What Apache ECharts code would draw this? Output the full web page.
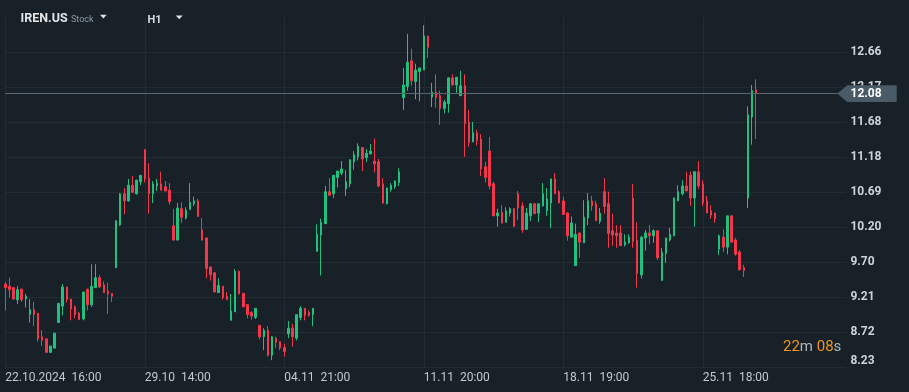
<!DOCTYPE html>
<html>
<head>
<meta charset="utf-8">
<script src="https://cdn.jsdelivr.net/npm/echarts@6/dist/echarts.min.js"></script>
<style>
html,body{margin:0;padding:0;background:#182028;}
#c{width:909px;height:392px;}
</style>
</head>
<body>
<div id="c"></div>
<script>
// ---- data (IREN.US, H1) ----
const opens = [
9.40,9.37,9.35,9.18,9.33,9.19,8.97,9.04,8.99,8.66,
8.63,8.44,8.50,8.86,9.09,9.36,9.19,9.08,8.99,8.91,
9.33,9.11,9.35,9.49,9.39,9.30,9.27,9.63,10.23,10.67,
10.57,10.79,10.67,10.84,11.29,10.89,10.67,10.78,10.81,10.77,
10.72,10.22,10.02,10.46,10.33,10.45,10.53,10.57,10.16,10.05,
9.64,9.56,9.28,9.37,9.23,8.89,9.01,9.58,9.27,9.11,
9.00,8.93,8.82,8.66,8.75,8.40,8.64,8.59,8.51,8.70,
8.78,8.64,8.93,9.06,9.00,8.97,9.86,10.09,10.25,10.70,
10.67,10.90,10.96,10.74,10.81,11.12,11.19,11.32,11.18,11.23,
11.13,11.12,10.81,10.53,10.73,10.77,10.83,12.02,12.18,12.54,
12.25,12.39,12.41,12.89,12.03,12.10,12.05,11.87,11.94,12.30,
12.20,12.05,12.19,11.68,11.40,11.53,11.44,11.05,11.27,10.81,
10.36,10.41,10.27,10.40,10.46,10.67,10.50,10.17,10.36,10.53,
10.40,10.50,10.43,10.54,10.88,10.70,10.57,10.40,10.06,9.66,
10.12,9.98,10.33,10.57,10.53,10.28,10.70,10.53,10.15,10.12,
10.12,9.95,9.98,10.61,10.02,9.53,10.05,10.12,10.08,10.15,
9.45,9.83,10.02,10.08,10.57,10.67,10.78,10.93,10.61,10.98,
10.81,10.57,10.43,10.40,9.89,10.06,9.92,10.36,10.02,9.85,
9.63,10.61,11.75,12.13
];
const closes = [
9.35,9.32,9.19,9.32,9.18,9.23,9.04,8.97,8.63,8.61,
8.44,8.53,8.71,9.13,9.36,9.18,9.05,8.97,8.90,9.29,
9.11,9.37,9.49,9.36,9.28,9.26,9.23,10.29,10.67,10.57,
10.79,10.69,10.86,10.93,10.88,10.67,10.81,10.82,10.72,10.71,
10.56,10.02,10.47,10.34,10.44,10.55,10.57,10.35,10.02,9.62,
9.53,9.29,9.38,9.21,9.18,9.02,9.58,9.26,9.08,8.97,
8.95,9.06,8.66,8.75,8.40,8.66,8.58,8.50,8.45,8.78,
8.66,8.97,9.06,8.96,8.96,9.06,10.10,10.27,10.70,10.65,
10.93,10.99,11.02,10.84,11.15,11.22,11.34,11.16,11.24,11.27,
11.09,10.78,10.54,10.75,10.79,10.85,10.98,12.20,12.52,12.26,
12.41,12.44,12.89,12.73,12.10,12.02,11.87,11.96,12.30,12.20,
12.31,12.19,11.66,11.39,11.53,11.42,11.02,10.90,10.78,10.36,
10.40,10.26,10.43,10.46,10.21,10.47,10.16,10.40,10.53,10.39,
10.53,10.67,10.60,10.88,10.67,10.54,10.38,10.08,10.26,10.10,
9.99,10.34,10.57,10.50,10.29,10.40,10.49,10.11,10.09,10.08,
9.94,9.99,10.06,10.00,9.55,10.06,10.12,10.08,10.15,9.77,
9.85,10.05,10.10,10.61,10.70,10.78,10.71,10.61,10.98,10.78,
10.54,10.40,10.37,10.32,10.08,9.92,10.36,9.99,9.82,9.60,
9.59,11.78,12.12,12.08
];
const lows = [
9.03,9.21,9.18,9.12,9.15,9.07,8.86,8.81,8.59,8.53,
8.44,8.44,8.49,8.86,8.96,9.14,8.89,8.92,8.90,8.89,
9.03,9.08,9.35,9.35,9.28,8.98,9.15,9.63,10.22,10.38,
10.56,10.69,10.66,10.79,10.83,10.39,10.54,10.71,10.72,10.71,
10.52,10.01,10.01,10.26,10.31,10.45,10.50,10.35,10.01,9.48,
9.45,9.28,9.28,9.18,9.18,8.89,9.01,9.26,9.08,8.92,
8.90,8.91,8.62,8.47,8.38,8.33,8.50,8.47,8.38,8.64,
8.52,8.61,8.89,8.89,8.94,8.81,9.86,9.52,10.25,10.64,
10.61,10.76,10.93,10.64,10.76,11.01,11.14,10.99,11.12,11.23,
10.97,10.76,10.53,10.52,10.70,10.74,10.78,11.85,12.12,12.19,
12.00,11.97,12.41,12.58,11.89,11.88,11.64,11.80,11.81,12.19,
12.09,12.05,11.19,11.33,11.40,11.35,10.92,10.83,10.73,10.36,
10.21,10.25,10.27,10.35,10.21,10.30,10.12,10.17,10.29,10.39,
10.27,10.49,10.36,10.19,10.67,10.54,10.38,10.01,10.06,9.66,
9.77,9.98,10.23,10.43,10.29,10.25,10.39,9.91,9.94,9.91,
9.94,9.93,9.97,9.91,9.35,9.48,9.87,9.96,9.98,9.74,
9.45,9.70,10.00,10.07,10.57,10.65,10.71,10.50,10.21,10.74,
10.50,10.40,10.32,10.26,9.81,9.85,9.82,9.99,9.80,9.60,
9.50,10.47,11.36,11.44
];
const highs = [
9.43,9.49,9.36,9.37,9.33,9.26,9.19,9.15,8.99,8.75,
8.63,8.53,8.71,9.13,9.40,9.36,9.19,9.10,9.01,9.29,
9.33,9.68,9.68,9.53,9.44,9.42,9.27,10.30,10.68,10.75,
10.88,10.92,10.87,10.93,11.30,11.10,10.85,10.88,10.98,10.85,
10.82,10.46,10.54,10.55,10.48,10.82,10.63,10.60,10.33,10.05,
9.65,9.56,9.48,9.37,9.29,9.26,9.61,9.59,9.27,9.11,
9.02,9.06,8.82,8.78,8.81,8.67,8.66,8.60,8.56,8.88,
8.84,8.97,9.09,9.06,9.03,9.06,10.24,10.32,10.78,10.89,
10.93,10.99,11.13,11.00,11.15,11.27,11.38,11.32,11.30,11.37,
11.45,11.16,10.89,10.76,10.82,10.86,11.03,12.44,12.92,12.71,
12.50,12.44,13.04,12.89,12.23,12.35,12.12,11.99,12.31,12.35,
12.31,12.40,12.35,11.85,11.68,11.57,11.51,11.12,11.47,10.84,
10.46,10.51,10.48,10.48,10.47,10.71,10.55,10.47,10.53,10.54,
10.53,10.82,10.75,10.88,10.96,10.72,10.63,10.41,10.35,10.25,
10.12,10.58,10.68,10.64,10.57,10.47,10.89,10.70,10.39,10.23,
10.23,10.10,10.10,10.81,10.27,10.08,10.16,10.23,10.17,10.15,
9.91,10.05,10.19,10.62,10.79,10.86,10.98,10.98,10.99,11.13,
10.86,10.64,10.51,10.40,10.10,10.17,10.36,10.37,10.05,9.88,
9.67,11.90,12.20,12.28
];
const xTickLabels = ['22.10.2024  16:00','29.10  14:00','04.11  21:00','11.11  20:00','18.11  19:00','25.11  18:00'];
const xTickEvery = 34;
const yTickLabels = ['8.23','8.72','9.21','9.70','10.20','10.69','11.18','11.68','12.17','12.66'];
const yLow = 8.23, yStep = 0.4922, yTickCount = 10;
const symbolName = 'IREN.US', symbolType = 'Stock', timeframe = 'H1';
const timerLeft = ['22', '08'];

// ---- chart ----
const N = opens.length;
const categories = opens.map((_, i) => String(i));
const candles = opens.map((o, i) => [o, closes[i], lows[i], highs[i]]);
const lastClose = closes[N - 1];
const GRID = '#232c34';
const UP = '#22c07e', DOWN = '#f4364a';

const chart = echarts.init(document.getElementById('c'), null, {renderer: 'canvas'});

function headerGraphics(tagY) {
  const g = [
    {id:'sym', type:'text', x:20.5, y:18.5, style:{text:symbolName, fill:'#e4e6e8', font:'bold 12.5px Roboto', textVerticalAlign:'middle', verticalAlign:'middle'}},
    {id:'styp', type:'text', x:71, y:19.5, style:{text:symbolType, fill:'#8e9aa3', font:'9px Roboto', textVerticalAlign:'middle', verticalAlign:'middle'}},
    {id:'tri1', type:'polygon', shape:{points:[[100,14.7],[106.7,14.7],[103.35,18.4]]}, style:{fill:'#dfe2e5'}},
    {id:'tf', type:'text', x:147.5, y:20.5, style:{text:timeframe, fill:'#d8dbde', font:'bold 11px Roboto', textVerticalAlign:'middle', verticalAlign:'middle'}},
    {id:'tri2', type:'polygon', shape:{points:[[175.7,15.4],[182.7,15.4],[179.2,19.2]]}, style:{fill:'#dfe2e5'}},
    {id:'timer', type:'text', x:783, y:347.5, style:{
      text:'{o|' + timerLeft[0] + '}{g|m} {o|' + timerLeft[1] + '}{g|s}',
      font:'15px Roboto', textVerticalAlign:'middle', verticalAlign:'middle',
      rich:{o:{fill:'#f0951d', font:'15px Roboto'}, g:{fill:'#aeb6bd', font:'15px Roboto'}}
    }}
  ];
  if (tagY != null) {
    g.push({id:'tag', type:'polygon', z:100, shape:{points:[[837.3,tagY],[847.3,tagY-8.4],[896.7,tagY-8.4],[896.7,tagY+8.4],[847.3,tagY+8.4]]}, style:{fill:'#4a5a66'}});
    g.push({id:'tagtxt', type:'text', z:101, x:850.5, y:tagY+0.5, style:{text:lastClose.toFixed(2), fill:'#ffffff', font:'bold 12px Roboto', textVerticalAlign:'middle', verticalAlign:'middle'}});
  }
  return g;
}

const option = {
  animation: false,
  backgroundColor: '#182028',
  grid: {left: 5.3, right: 62.6, top: 17.3, bottom: 24.7},
  xAxis: {
    type: 'category',
    data: categories,
    boundaryGap: false,
    max: 205,
    axisLine: {show: false},
    axisTick: {show: false},
    axisLabel: {
      interval: (i) => i % xTickEvery === 0 && i < N,
      formatter: (v, i) => xTickLabels[Math.round(i / xTickEvery)] || '',
      align: 'left', color: '#c5c9cd', fontFamily: 'Roboto', fontSize: 12, margin: 5
    },
    splitLine: {show: true, interval: (i) => i % xTickEvery === 0 && i < N, lineStyle: {color: GRID, width: 1}}
  },
  yAxis: [
    {type: 'value', min: yLow, max: yLow + yTickCount * yStep, show: false, splitLine: {show: false}},
    {type: 'value', position: 'right', min: 0, max: yTickCount, interval: 1,
     axisLine: {show: false}, axisTick: {show: false},
     splitLine: {show: true, showMaxLine: false, lineStyle: {color: GRID, width: 1}},
     axisLabel: {formatter: (v) => yTickLabels[Math.round(v)] || '', color: '#d0d3d6', fontFamily: 'Roboto', fontSize: 12, fontWeight: 'bold', margin: 4, verticalAlignMinLabel: 'bottom'}}
  ],
  series: [{
    type: 'candlestick',
    yAxisIndex: 0,
    data: candles,
    barWidth: 2,
    itemStyle: {color: UP, color0: DOWN, borderColor: UP, borderColor0: DOWN, borderWidth: 1},
    markLine: {
      silent: true, symbol: ['none', 'none'],
      label: {show: false},
      lineStyle: {color: '#5a6670', width: 1, type: 'solid'},
      data: [{yAxis: lastClose}]
    }
  }],
  graphic: headerGraphics(null)
};
chart.setOption(option);
const tagY = chart.convertToPixel({yAxisIndex: 0}, lastClose);
chart.setOption({graphic: headerGraphics(tagY)});
</script>
</body>
</html>
